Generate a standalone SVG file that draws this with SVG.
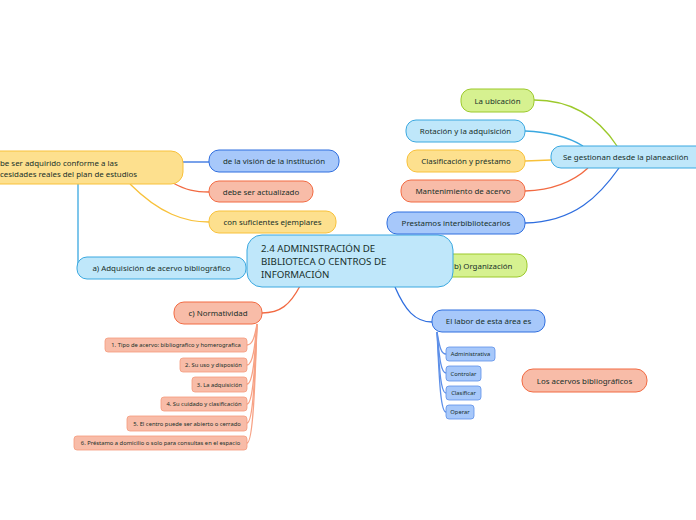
<svg xmlns="http://www.w3.org/2000/svg" width="696" height="520" viewBox="0 0 696 520">
<style>
text{font-family:"Noto Sans","Open Sans","DejaVu Sans",sans-serif;fill:#17302a;font-size:7.9px}
.c{text-anchor:middle}
.s{font-size:5.8px}
.yel{fill:#fde08e;stroke:#f8c13a;stroke-width:1}
.blu{fill:#a7c8fa;stroke:#2f6edf;stroke-width:1}
.sal{fill:#f8bca8;stroke:#f26a42;stroke-width:1}
.lbl{fill:#bfe7fa;stroke:#3aa8e0;stroke-width:1}
.grn{fill:#d6f190;stroke:#9cc92b;stroke-width:1}
.ssal{fill:#f8bca8;stroke:#f59a7c;stroke-width:0.8}
.sblu{fill:#a7c8fa;stroke:#5d8fe8;stroke-width:0.8}
#connectors path{fill:none;stroke-width:1.3}
</style>
<rect width="696" height="520" fill="#ffffff"/>
<g id="connectors">
<path d="M183,162 L209,162" stroke="#2f6edf"/>
<path d="M173,183 C186,190 195,192 209,192" stroke="#f26a42"/>
<path d="M130,184 C160,214 185,222 209,222" stroke="#f8c13a"/>
<path d="M78,184 L78,268" stroke="#3aa8e0"/>
<path d="M300,286 C290,305 280,313 262,313" stroke="#f26a42"/>
<path d="M395,287 C405,310 415,322 432,322" stroke="#2f6edf"/>
<path d="M534,100 C575,100 600,120 617,146" stroke="#9cc92b"/>
<path d="M525,131 C550,132 570,138 583,146" stroke="#3aa8e0"/>
<path d="M525,161 L551,160" stroke="#f8c13a"/>
<path d="M525,191 C555,190 575,180 588,168" stroke="#f26a42"/>
<path d="M525,223 C575,222 600,195 619,168" stroke="#2f6edf"/>
<g stroke="#f7a285" style="stroke-width:0.8">
<path d="M257,324 C255,335 253,345 247,345" fill="none"/>
<path d="M257,324 C255,345 253,365 247,365" fill="none"/>
<path d="M257,324 C255,355 253,384 247,384" fill="none"/>
<path d="M257,324 C255,365 253,404 247,404" fill="none"/>
<path d="M257,324 C255,375 253,423 247,423" fill="none"/>
<path d="M257,324 C255,385 253,443 247,443" fill="none"/>
</g>
<g stroke="#5d8fe8" style="stroke-width:0.8">
<path d="M437,332 C439,342 440,354 446,354" fill="none"/>
<path d="M437,332 C439,350 440,373 446,373" fill="none"/>
<path d="M437,332 C439,360 440,393 446,393" fill="none"/>
<path d="M437,332 C439,370 440,412 446,412" fill="none"/>
</g>
</g>
<g id="n-debe-ser">
<rect x="-12" y="151" width="195" height="33" rx="12" class="yel"/>
<text x="0" y="166">be ser adquirido conforme a las</text>
<text x="0" y="177">cesidades reales del plan de estudios</text>
</g>
<g id="n-vision"><rect x="209" y="150" width="130" height="22" rx="10" class="blu"/><text x="274" y="164" class="c">de la visión de la institución</text></g>
<g id="n-actualizado"><rect x="209" y="181" width="104" height="21" rx="10" class="sal"/><text x="261" y="194.5" class="c">debe ser actualizado</text></g>
<g id="n-ejemplares"><rect x="209" y="211" width="127" height="22" rx="10" class="yel"/><text x="272.5" y="225" class="c">con suficientes ejemplares</text></g>
<g id="n-adquisicion"><rect x="77" y="257" width="169" height="22" rx="10" class="lbl"/><text x="161.5" y="271" class="c">a) Adquisición de acervo bibliográfico</text></g>
<g id="n-organizacion"><rect x="430" y="254" width="97" height="23" rx="10" class="grn"/><text x="454" y="268.5">b) Organización</text></g>
<g id="n-central">
<rect x="247" y="235" width="206" height="52" rx="15" class="lbl"/>
<text x="261" y="252" style="font-size:9.7px">2.4 ADMINISTRACIÓN DE</text>
<text x="261" y="265" style="font-size:9.7px">BIBLIOTECA O CENTROS DE</text>
<text x="261" y="278" style="font-size:9.7px">INFORMACIÓN</text>
</g>
<g id="n-normatividad"><rect x="174" y="302" width="88" height="22" rx="10" class="sal"/><text x="218" y="316" class="c">c) Normatividad</text></g>
<g id="n-labor"><rect x="432" y="310" width="113" height="22" rx="10" class="blu"/><text x="488.5" y="324" class="c">El labor de esta área es</text></g>
<g id="n-n1"><rect x="105" y="338" width="142" height="14" rx="3" class="ssal"/><text x="176" y="347" class="c s">1. Tipo de acervo: bibliografico y homerografica</text></g>
<g id="n-n2"><rect x="180" y="358" width="67" height="14" rx="3" class="ssal"/><text x="213.5" y="367" class="c s">2. Su uso y disposión</text></g>
<g id="n-n3"><rect x="192" y="377" width="55" height="15" rx="3" class="ssal"/><text x="219.5" y="386.5" class="c s">3. La adquisición</text></g>
<g id="n-n4"><rect x="161" y="397" width="86" height="14" rx="3" class="ssal"/><text x="204" y="406" class="c s">4. Su cuidado y clasificación</text></g>
<g id="n-n5"><rect x="127" y="416" width="120" height="15" rx="3" class="ssal"/><text x="187" y="425.5" class="c s">5. El centro puede ser abierto o cerrado</text></g>
<g id="n-n6"><rect x="74" y="436" width="173" height="14" rx="3" class="ssal"/><text x="160.5" y="445" class="c s">6. Préstamo a domicilio o solo para consultas en el espacio</text></g>
<g id="n-administrativa"><rect x="446" y="347" width="49" height="14" rx="3" class="sblu"/><text x="470.5" y="356" class="c s">Administrativa</text></g>
<g id="n-controlar"><rect x="446" y="366" width="35" height="15" rx="3" class="sblu"/><text x="463.5" y="375.5" class="c s">Controlar</text></g>
<g id="n-clasificar"><rect x="446" y="386" width="35" height="14" rx="3" class="sblu"/><text x="463.5" y="395" class="c s">Clasificar</text></g>
<g id="n-operar"><rect x="446" y="405" width="28" height="14" rx="3" class="sblu"/><text x="460" y="414" class="c s">Operar</text></g>
<g id="n-acervos"><rect x="522" y="369" width="125" height="23" rx="11" class="sal"/><text x="584.5" y="383.5" class="c">Los acervos bibliográficos</text></g>
<g id="n-gestionan"><rect x="551" y="146" width="160" height="22" rx="10" class="lbl"/><text x="563" y="160">Se gestionan desde la planeaciión</text></g>
<g id="n-ubicacion"><rect x="461" y="89" width="73" height="23" rx="10" class="grn"/><text x="497.5" y="103.5" class="c">La ubicación</text></g>
<g id="n-rotacion"><rect x="406" y="120" width="119" height="22" rx="10" class="lbl"/><text x="465.5" y="134" class="c">Rotación y la adquisición</text></g>
<g id="n-clasificacion"><rect x="407" y="150" width="118" height="22" rx="10" class="yel"/><text x="466" y="164" class="c">Clasificación y préstamo</text></g>
<g id="n-mantenimiento"><rect x="401" y="180" width="124" height="22" rx="10" class="sal"/><text x="463" y="194" class="c">Mantenimiento de acervo</text></g>
<g id="n-prestamos"><rect x="387" y="212" width="138" height="22" rx="10" class="blu"/><text x="456" y="226" class="c">Prestamos interbibliotecarios</text></g>
</svg>
